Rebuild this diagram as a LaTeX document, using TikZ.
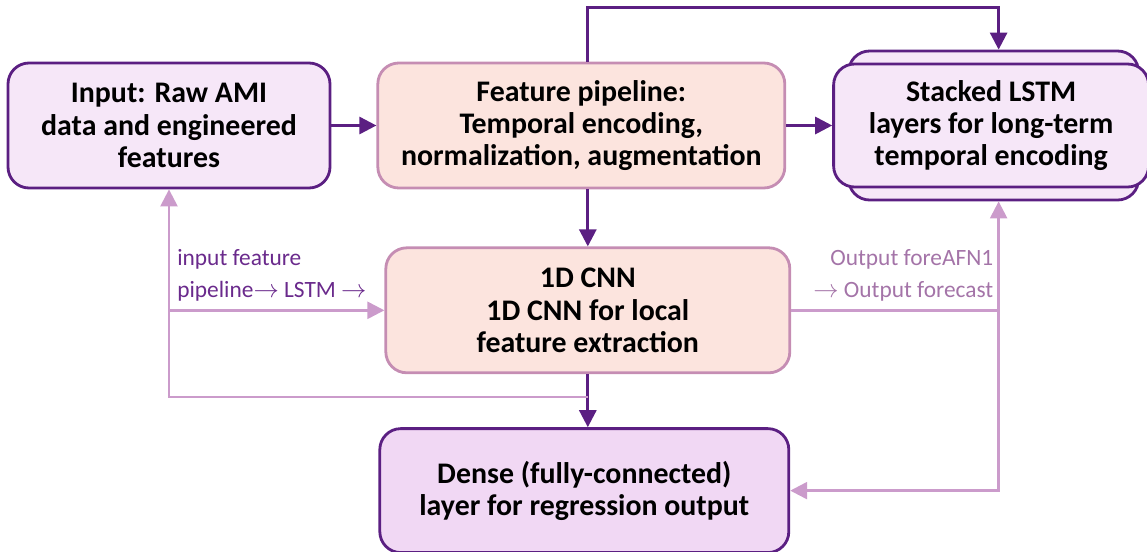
\documentclass[tikz,border=0pt]{standalone}
\usepackage{fontspec}
\setmainfont{Carlito}
\usetikzlibrary{shapes,arrows.meta,positioning,calc,backgrounds}

\definecolor{plum}{HTML}{5B1F82}
\definecolor{rosy}{HTML}{C58DB3}
\definecolor{mauve}{HTML}{CB9BCB}
\definecolor{lilac}{HTML}{F6E7F8}
\definecolor{orchid}{HTML}{F1D8F4}
\definecolor{peach}{HTML}{FCE4DE}
\definecolor{labdark}{HTML}{6A2A8C}
\definecolor{lablight}{HTML}{A474A8}

\begin{document}
\begin{tikzpicture}[node distance=0.9cm,
        block/.style={rectangle, rounded corners=0.42cm, line width=1.6pt, align=center,
            minimum height=2.5cm, font=\fontsize{17}{18.4}\selectfont\bfseries},
        violet/.style={block, draw=plum, fill=lilac},
        salmon/.style={block, draw=rosy, fill=peach},
        link/.style={draw=plum, line width=1.6pt, -{Triangle[length=0.34cm,width=0.34cm]}},
        soft/.style={draw=mauve, line width=1.4pt, -{Triangle[length=0.34cm,width=0.34cm]}},
        tag/.style={inner sep=0pt, align=left, font=\fontsize{13.3}{18}\selectfont}]

        \useasboundingbox (0,0) rectangle (22.94,-11.02);

        \node[violet, minimum width=6.44cm] (input) at (3.38,-2.51) {Input: Raw AMI\\data and engineered\\features};
        \node[salmon, minimum width=8.14cm, right=0.9cm of input] (pipe) {Feature pipeline:\\Temporal encoding,\\normalization, augmentation};
        \node[violet, minimum width=6.3cm, minimum height=2.46cm, right=0.92cm of pipe] (lstm) {Stacked LSTM\\layers for long-term\\temporal encoding};
        \node[salmon, minimum width=8.08cm, below=1.14cm of pipe, xshift=0.13cm] (cnn) {1D CNN\\1D CNN for local\\feature extraction};
        \node[violet, fill=orchid, minimum width=8.18cm, minimum height=2.48cm, below=1.06cm of cnn, xshift=-0.07cm] (dense) {Dense (fully-connected)\\layer for regression output};

        % second layer behind the LSTM box
        \begin{scope}[on background layer]
            \node[block, draw=plum, fill=lilac, minimum width=5.8cm, minimum height=2.98cm] (lstmbk) at ([xshift=0.05cm]lstm.center) {};
        \end{scope}

        \coordinate (rbus) at ([xshift=0.1cm]lstmbk.south);

        % main flow
        \draw[link] (input) -- (pipe);
        \draw[link] (pipe) -- (lstm);
        \draw[link] (cnn.north |- pipe.south) -- (cnn.north);
        \draw[link] (cnn.south) -- (cnn.south |- dense.north);
        \draw[link] (cnn.north |- pipe.north) -- ++(0,1.08) -| ([xshift=0.1cm]lstmbk.north);

        % feedback lines
        \draw[soft] ([yshift=-0.46cm]cnn.south) -| (input.south);
        \draw[soft] (input.south |- cnn.west) -- (cnn.west);
        \draw[soft] (cnn.east) -- (cnn.east -| rbus) |- (dense.east);
        \draw[soft] (cnn.east -| rbus) -- (rbus);

        \node[tag, text=labdark, anchor=south west] (lefttag) at ([xshift=0.16cm,yshift=0.18cm]input.south |- cnn.west) {input feature\\pipeline$\rightarrow$ LSTM $\rightarrow$};
        \node[tag, text=lablight, align=right, anchor=south east] (righttag) at ([xshift=-0.1cm,yshift=0.18cm]cnn.east -| rbus) {Output foreAFN1\\$\rightarrow$ Output forecast};

    \end{tikzpicture}
\end{document}
